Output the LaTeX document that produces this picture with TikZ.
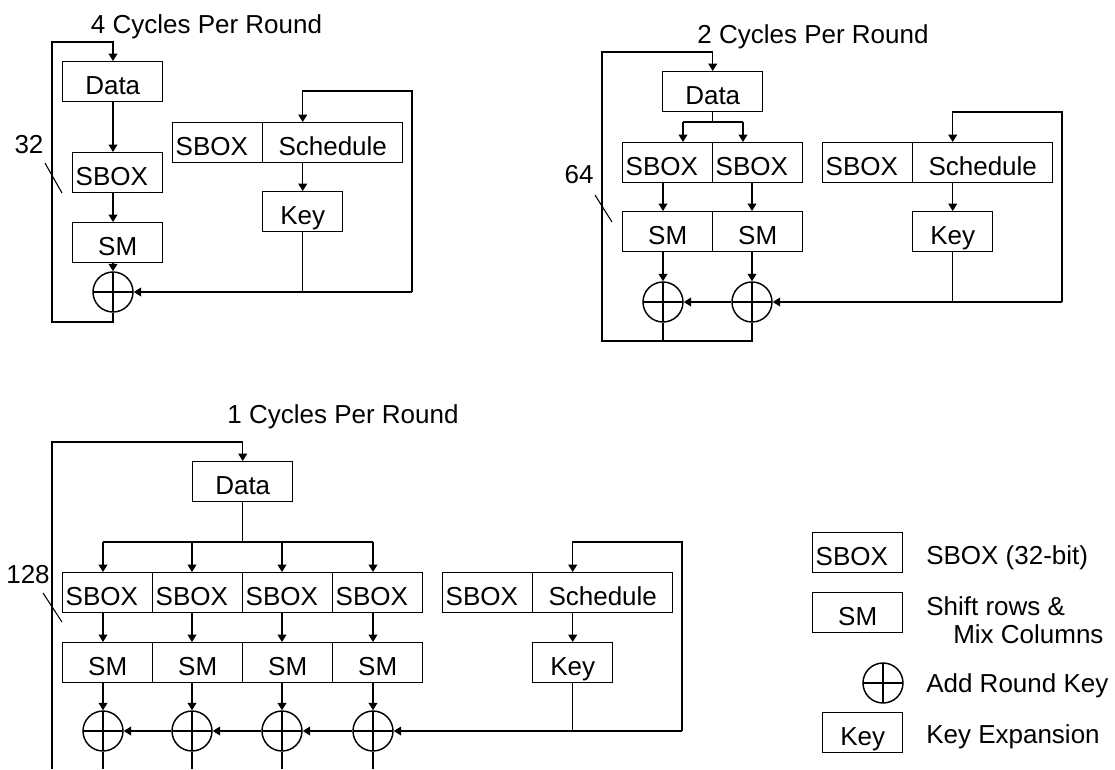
\documentclass[tikz,border=0pt]{standalone}
\usepackage{fontspec}
\setmainfont{Liberation Sans}
\usetikzlibrary{arrows.meta}
\begin{document}
\begin{tikzpicture}[x=0.75pt,y=-0.75pt,
  every node/.style={font=\fontsize{19.5pt}{22pt}\selectfont},
  box/.style={draw, line width=1.1pt, minimum height=30pt, inner sep=0pt, text height=18.5pt, text depth=0pt, anchor=north west},
  sboxn/.style={box, text width=63pt, align=left, inner xsep=2.25pt},
  xorop/.style={draw, circle, line width=1.1pt, minimum size=30pt, inner sep=0pt,
    path picture={\draw[line width=1.1pt] (path picture bounding box.north) -- (path picture bounding box.south) (path picture bounding box.west) -- (path picture bounding box.east);}},
  ln/.style={line width=1.1pt},
  arr/.style={ln, -{Triangle[width=6.5pt,length=5.5pt]}},
  tick/.style={line width=0.8pt},
  title/.style={anchor=base, inner sep=0pt},
  lbl/.style={anchor=base west, inner sep=0pt}]
\useasboundingbox (0,0) rectangle (1115,769);

% ---------- 4 cycles per round ----------
\node[title] (t1) at (206.5,33) {4 Cycles Per Round};
\node[box, minimum width=75pt] (d1) at (62,61) {Data};
\node[sboxn] (sb1) at (72,152) {SBOX};
\node[box, minimum width=67.5pt] (sm1) at (72,222) {SM};
\node[xorop] (x1) at (113,292) {};
\draw[arr] (x1 |- d1.south) -- (x1 |- sb1.north);
\draw[arr] (x1 |- sb1.south) -- (x1 |- sm1.north);
\draw[arr] (x1 |- sm1.south) -- (x1.north);
\coordinate (l1a) at (52,322);
\coordinate (l1b) at (52,42);
\draw[arr] (x1.south) |- (l1a) -- (l1b) -| (x1 |- d1.north);
\node[sboxn] (ks1) at (172,122) {SBOX};
\node[box, minimum width=105pt] (sc1) at (262,122) {Schedule};
\node[box, minimum width=60pt] (k1) at (262,191) {Key};
\coordinate (r1a) at (412,292);
\coordinate (r1b) at (412,91);
\draw[arr] (k1 |- sc1.south) -- (k1.north);
\draw[arr] (r1a) -- (r1b) -| (k1 |- sc1.north);
\draw[arr] (r1a) -- (x1.east);
\draw[ln] (k1.south) -- (k1 |- x1.east);
\node[anchor=base] (n32) at (29,153) {32};
\draw[tick] (45,163) -- (62,193);

% ---------- 2 cycles per round ----------
\node[title] (t2) at (813,43) {2 Cycles Per Round};
\node[box, minimum width=75pt] (d2) at (662,71) {Data};
\node[sboxn] (sb2a) at (622,142) {SBOX};
\node[sboxn] (sb2b) at (712,142) {SBOX};
\node[box, minimum width=67.5pt] (sm2a) at (622,211) {SM};
\node[box, minimum width=67.5pt] (sm2b) at (712,211) {SM};
\node[xorop] (x2a) at (663,302) {};
\node[xorop] (x2b) at (752,302) {};
\coordinate (s2a) at (683,122);
\coordinate (s2b) at (743,122);
\draw[ln] (d2.south) -- (d2.south |- s2a);
\draw[ln] (s2a) -- (s2b);
\draw[arr] (s2a) -- (s2a |- sb2a.north);
\draw[arr] (s2b) -- (s2b |- sb2b.north);
\draw[arr] (x2a |- sb2a.south) -- (x2a |- sm2a.north);
\draw[arr] (x2b |- sb2b.south) -- (x2b |- sm2b.north);
\draw[arr] (x2a |- sm2a.south) -- (x2a.north);
\draw[arr] (x2b |- sm2b.south) -- (x2b.north);
\coordinate (l2a) at (602,341);
\coordinate (l2b) at (602,52);
\draw[arr] (x2b.south) |- (l2a) -- (l2b) -| (d2.north);
\draw[ln] (x2a.south) -- (x2a |- l2a);
\node[sboxn] (ks2) at (822,142) {SBOX};
\node[box, minimum width=105pt] (sc2) at (912,142) {Schedule};
\node[box, minimum width=60pt] (k2) at (912,211) {Key};
\coordinate (r2a) at (1062,302);
\coordinate (r2b) at (1062,112);
\draw[arr] (k2 |- sc2.south) -- (k2.north);
\draw[arr] (r2a) -- (r2b) -| (k2 |- sc2.north);
\draw[arr] (r2a) -- (x2b.east);
\draw[arr] (x2b.west) -- (x2a.east);
\draw[ln] (k2.south) -- (k2 |- x2b.east);
\node[anchor=base] (n64) at (579,183) {64};
\draw[tick] (595,195) -- (612,222);

% ---------- 1 cycles per round ----------
\node[title] (t3) at (343,423) {1 Cycles Per Round};
\node[box, minimum width=75pt] (d3) at (192,461) {Data};
\node[sboxn] (sb3a) at (62,572) {SBOX};
\node[sboxn] (sb3b) at (152,572) {SBOX};
\node[sboxn] (sb3c) at (242,572) {SBOX};
\node[sboxn] (sb3d) at (332,572) {SBOX};
\node[box, minimum width=67.5pt] (sm3a) at (62,642) {SM};
\node[box, minimum width=67.5pt] (sm3b) at (152,642) {SM};
\node[box, minimum width=67.5pt] (sm3c) at (242,642) {SM};
\node[box, minimum width=67.5pt] (sm3d) at (332,642) {SM};
\node[xorop] (x3a) at (103,731) {};
\node[xorop] (x3b) at (192,731) {};
\node[xorop] (x3c) at (282,731) {};
\node[xorop] (x3d) at (373,731) {};
\coordinate (s3a) at (103,542);
\coordinate (s3d) at (373,542);
\coordinate (bot) at (0,769);
\draw[ln] (d3.south) -- (d3.south |- s3a);
\draw[ln] (s3a) -- (s3d);
\foreach \i in {a,b,c,d}{
  \draw[arr] (x3\i |- s3a) -- (x3\i |- sb3a.north);
  \draw[arr] (x3\i |- sb3a.south) -- (x3\i |- sm3a.north);
  \draw[arr] (x3\i |- sm3a.south) -- (x3\i.north);
  \draw[ln] (x3\i.south) -- (x3\i |- bot);
}
\coordinate (l3a) at (52,769);
\coordinate (l3b) at (52,442);
\draw[arr] (l3a) -- (l3b) -| (d3.north);
\node[sboxn] (ks3) at (442,572) {SBOX};
\node[box, minimum width=105pt] (sc3) at (532,572) {Schedule};
\node[box, minimum width=60pt] (k3) at (532,642) {Key};
\coordinate (r3a) at (682,731);
\coordinate (r3b) at (682,542);
\draw[arr] (k3 |- sc3.south) -- (k3.north);
\draw[arr] (r3a) -- (r3b) -| (k3 |- sc3.north);
\draw[arr] (r3a) -- (x3d.east);
\draw[arr] (x3d.west) -- (x3c.east);
\draw[arr] (x3c.west) -- (x3b.east);
\draw[arr] (x3b.west) -- (x3a.east);
\draw[ln] (k3.south) -- (k3 |- x3d.east);
\node[anchor=base] (n128) at (28,583) {128};
\draw[tick] (43,593) -- (62,622);

% ---------- legend ----------
\node[sboxn] (lsb) at (812,532) {SBOX};
\node[box, minimum width=67.5pt] (lsm) at (812,592) {SM};
\node[xorop] (lx) at (883,683) {};
\node[box, minimum width=60pt] (lk) at (822,712) {Key};
\node[lbl] (lt1) at (926,564) {SBOX (32-bit)};
\node[lbl] (lt2) at (926,615) {Shift rows \&};
\node[lbl] (lt3) at (953,643) {Mix Columns};
\node[lbl] (lt4) at (926,692) {Add Round Key};
\node[lbl] (lt5) at (926,743) {Key Expansion};
\end{tikzpicture}
\end{document}
